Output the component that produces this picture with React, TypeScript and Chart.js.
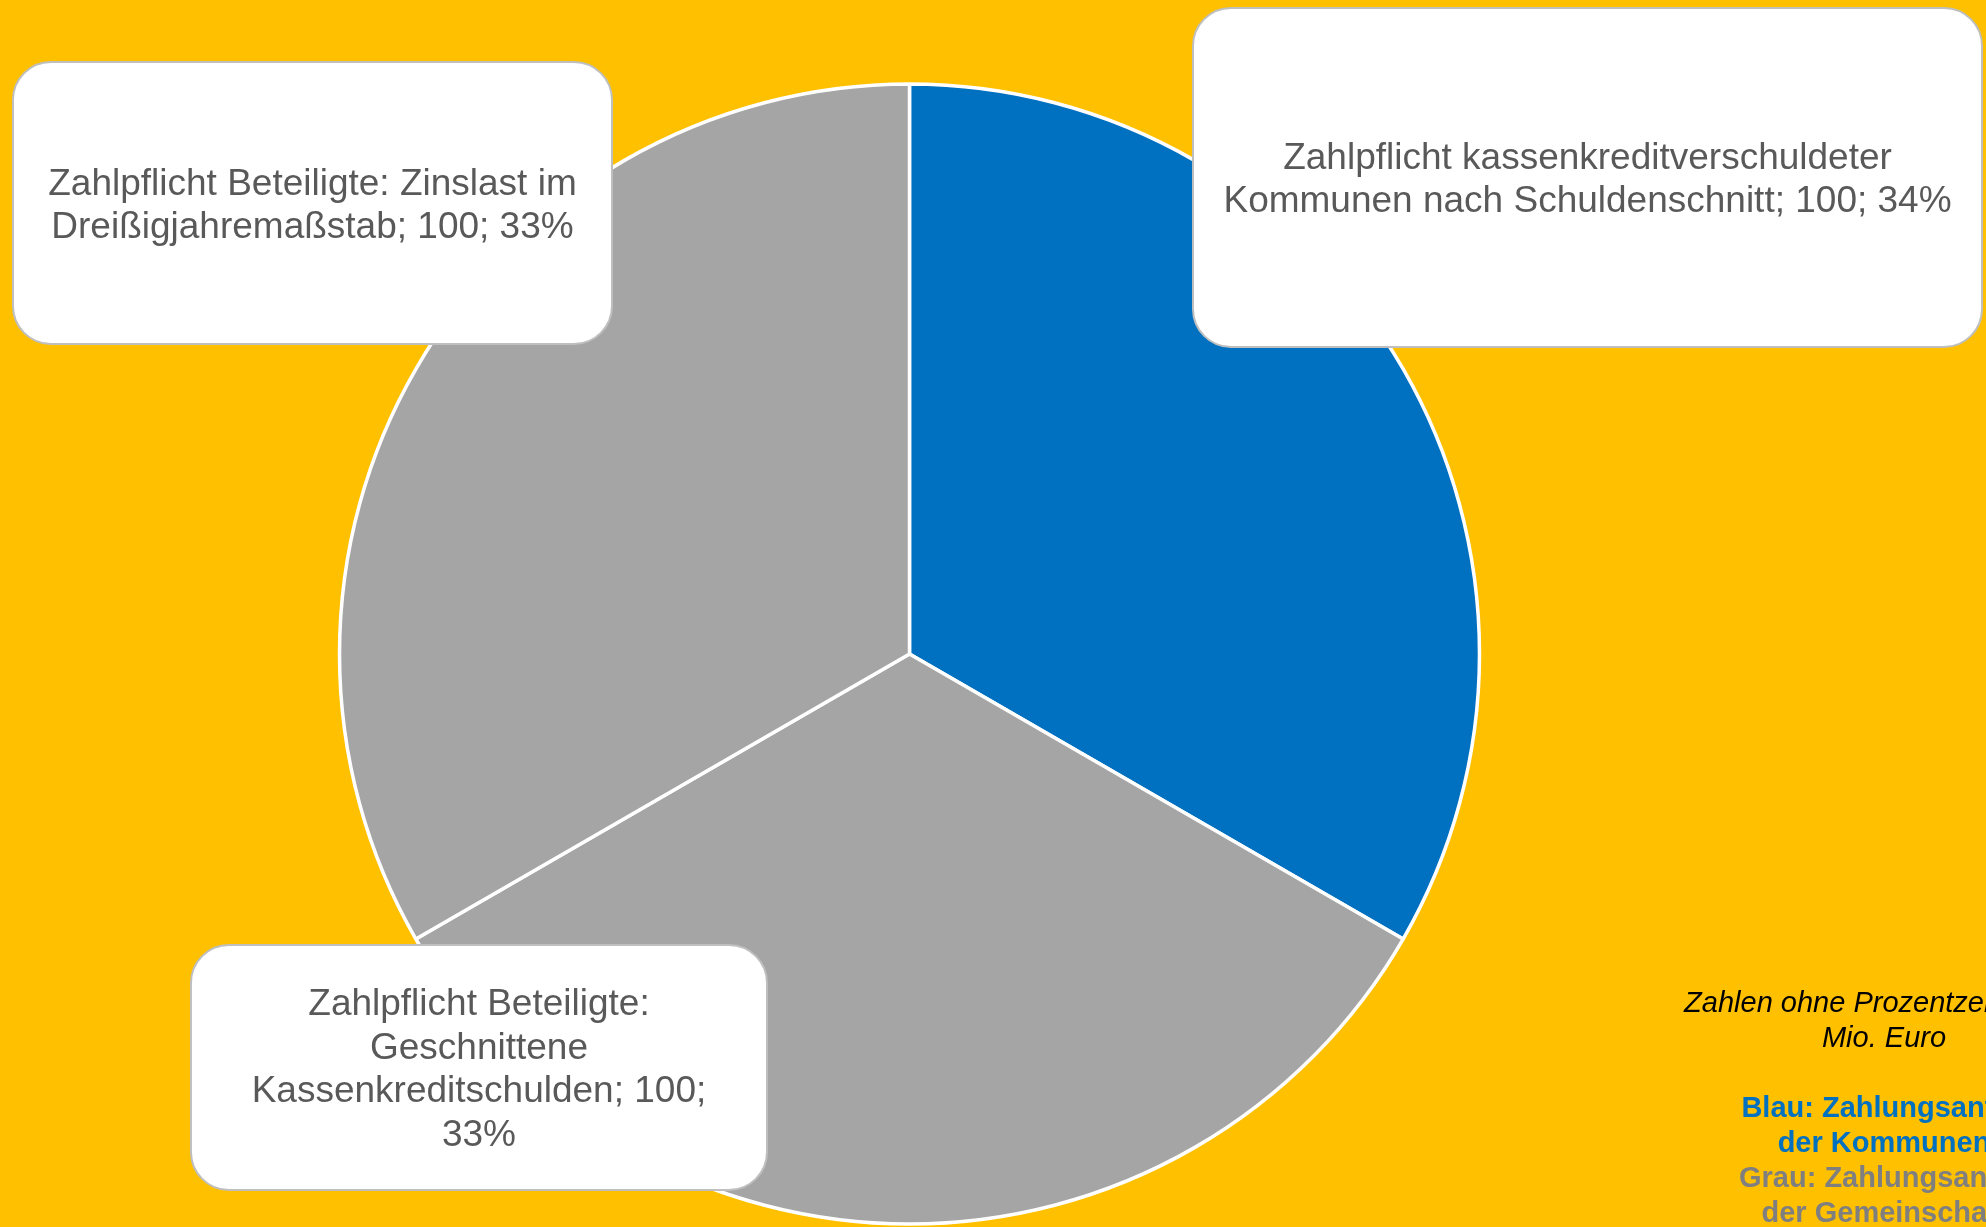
import React, { useEffect, useRef } from "react";
import { Chart, registerables } from "chart.js";

Chart.register(...registerables);

// ---------- data ----------
const categories = [
  "Zahlpflicht kassenkreditverschuldeter Kommunen nach Schuldenschnitt",
  "Zahlpflicht Beteiligte: Geschnittene Kassenkreditschulden",
  "Zahlpflicht Beteiligte: Zinslast im Dreißigjahremaßstab",
];
const values = [100, 100, 100];
const percentLabels = ["34%", "33%", "33%"];
const sliceColors = ["#0070C0", "#A5A5A5", "#A5A5A5"];

const noteLines = [
  { text: "Zahlen ohne Prozentzeichen in", style: "italic", color: "#000000" },
  { text: "Mio. Euro", style: "italic", color: "#000000" },
  { text: "", style: "italic", color: "#000000" },
  { text: "Blau: Zahlungsanteil", style: "bold", color: "#0070C0" },
  { text: "der Kommunen", style: "bold", color: "#0070C0" },
  { text: "Grau: Zahlungsanteil", style: "bold", color: "#7F7F7F" },
  { text: "der Gemeinschaft", style: "bold", color: "#7F7F7F" },
];

// ---------- layout / style ----------
const W = 1986;
const H = 1227;
const BG = "#FFC000";
const FONT = "'Liberation Sans', Arial, sans-serif";
const LABEL_FONT_SIZE = 37;
const LABEL_LINE_H = 43.5;
const LABEL_COLOR = "#595959";
// label boxes placed relative to the pie centre, in units of the pie radius
const labelLayout = [
  { dx: 1.1895, dy: -0.836, w: 789, h: 339, maxWidth: 760 },
  { dx: -0.7553, dy: 0.7254, w: 576, h: 245, maxWidth: 500 },
  { dx: -1.0474, dy: -0.7912, w: 599, h: 282, maxWidth: 560 },
];
const NOTE_X = 1884;
const NOTE_Y0 = 1012;
const NOTE_LINE_H = 35;
const NOTE_FONT_SIZE = 29;

function roundRectPath(ctx: CanvasRenderingContext2D, x: number, y: number, w: number, h: number, r: number) {
  ctx.beginPath();
  ctx.moveTo(x + r, y);
  ctx.lineTo(x + w - r, y);
  ctx.arcTo(x + w, y, x + w, y + r, r);
  ctx.lineTo(x + w, y + h - r);
  ctx.arcTo(x + w, y + h, x + w - r, y + h, r);
  ctx.lineTo(x + r, y + h);
  ctx.arcTo(x, y + h, x, y + h - r, r);
  ctx.lineTo(x, y + r);
  ctx.arcTo(x, y, x + r, y, r);
  ctx.closePath();
}

function wrap(ctx: CanvasRenderingContext2D, text: string, maxWidth: number): string[] {
  const words = text.split(" ");
  const lines: string[] = [];
  let cur = "";
  for (const w of words) {
    const test = cur ? cur + " " + w : w;
    if (cur && ctx.measureText(test).width > maxWidth) {
      lines.push(cur);
      cur = w;
    } else {
      cur = test;
    }
  }
  if (cur) lines.push(cur);
  return lines;
}

const labelPlugin = {
  id: "calloutLabels",
  afterDraw(chart: any) {
    const ctx: CanvasRenderingContext2D = chart.ctx;
    const meta = chart.getDatasetMeta(0);
    ctx.save();
    meta.data.forEach((arc: any, i: number) => {
      const { x, y, outerRadius } = arc.getProps(["x", "y", "outerRadius"], true);
      const L = labelLayout[i];
      const cx = x + L.dx * outerRadius;
      const cy = y + L.dy * outerRadius;
      const bx = cx - L.w / 2;
      const by = cy - L.h / 2;
      roundRectPath(ctx, bx, by, L.w, L.h, 38);
      ctx.fillStyle = "#FFFFFF";
      ctx.fill();
      ctx.lineWidth = 2;
      ctx.strokeStyle = "#BFBFBF";
      ctx.stroke();

      ctx.font = `${LABEL_FONT_SIZE}px ${FONT}`;
      ctx.fillStyle = LABEL_COLOR;
      ctx.textAlign = "center";
      ctx.textBaseline = "alphabetic";
      const text = `${chart.data.labels[i]}; ${chart.data.datasets[0].data[i]}; ${percentLabels[i]}`;
      const lines = wrap(ctx, text, L.maxWidth);
      const cap = LABEL_FONT_SIZE * 0.716;
      const first = cy - ((lines.length - 1) * LABEL_LINE_H) / 2 + cap / 2;
      lines.forEach((ln, k) => ctx.fillText(ln, cx, first + k * LABEL_LINE_H));
    });

    // note text (bottom right)
    ctx.textAlign = "center";
    ctx.textBaseline = "alphabetic";
    noteLines.forEach((ln, k) => {
      if (!ln.text) return;
      ctx.font = `${ln.style} ${NOTE_FONT_SIZE}px ${FONT}`;
      ctx.fillStyle = ln.color;
      ctx.fillText(ln.text, NOTE_X, NOTE_Y0 + k * NOTE_LINE_H);
    });
    ctx.restore();
  },
};

export default function App() {
  const ref = useRef<HTMLCanvasElement | null>(null);

  useEffect(() => {
    document.body.style.margin = "0";
    document.body.style.background = BG;
    const canvas = ref.current!;
    const chart = new Chart(canvas, {
      type: "pie",
      data: {
        labels: categories,
        datasets: [
          {
            data: values,
            backgroundColor: sliceColors,
            borderColor: "#FFFFFF",
            borderWidth: 3.5,
            radius: 570,
          } as any,
        ],
      },
      options: {
        responsive: false,
        animation: false,
        devicePixelRatio: 1,
        events: [],
        layout: { padding: { left: 0, right: 167, top: 81, bottom: 0 } },
        plugins: {
          legend: { display: false },
          tooltip: { enabled: false },
        },
      },
      plugins: [labelPlugin],
    });
    return () => chart.destroy();
  }, []);

  return (
    <div
      style={{
        position: "fixed",
        left: 0,
        top: 0,
        width: W,
        height: H,
        background: BG,
        overflow: "hidden",
      }}
    >
      <canvas ref={ref} width={W} height={H} style={{ display: "block", width: W, height: H }} />
    </div>
  );
}
